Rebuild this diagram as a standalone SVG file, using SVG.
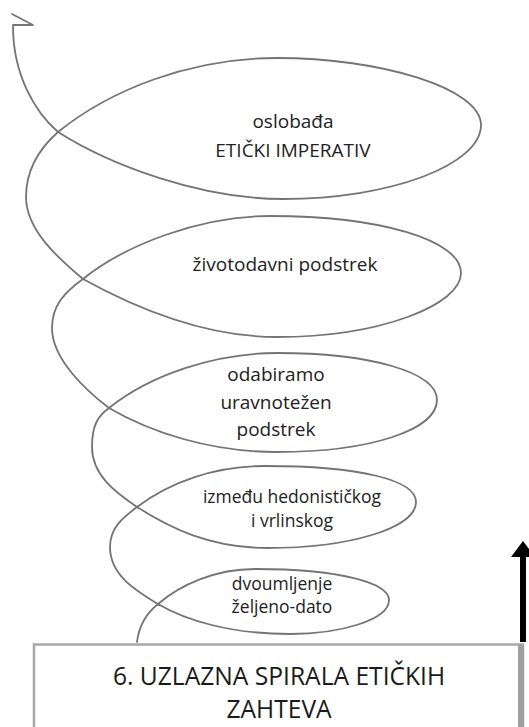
<svg xmlns="http://www.w3.org/2000/svg" width="529" height="727" viewBox="0 0 529 727">
<style>
.sp{fill:none;stroke:#747474;stroke-width:1.8;stroke-linejoin:round;stroke-linecap:round}
.t{font-family:"Open Sans","Noto Sans",sans-serif;fill:#222;text-anchor:middle}
.a{font-size:19px}
.b{font-size:17.5px}
.c{font-size:24.6px;fill:#1a1a1a}
</style>
<rect width="529" height="727" fill="#fff"/>
<g id="connectors">
<path class="sp" d="M137,642 C139,625 148,612 158,604 C180,585 215,569 255,569 C340,569 389,583 389,600 C389,620 340,634 290,634 C230,634 185,620 158,604 C135,590 110,575 110,547 C110,527 124,517 137,507 C170,482 215,466 265,466 C360,466 416,480 416,502 C416,528 350,548 267,548 C210,548 170,528 137,507 C115,492 92,475 92,447 C92,425 98,416 109,408 C150,375 215,353 277,353 C370,353 437,372 437,400 C437,430 370,452 277,452 C210,452 150,432 109,408 C88,392 52,360 52,328 C52,305 65,292 83,279 C125,245 200,216 270,216 C380,216 461,240 461,273 C461,305 380,337 277,337 C200,337 130,305 83,279 C63,262 26,232 26,197 C26,170 40,148 58,132 C110,90 190,58 277,58 C380,58 481,88 481,125 C481,165 390,199 283,199 C200,199 110,165 58,132 C35,112 13,75 13,26"/>
<path class="sp" d="M12,14 L33,25 L13,25"/>
<g id="up-arrow">
<rect x="520" y="555" width="6" height="87" fill="#000"/>
<polygon points="511,557 523,541 535,557" fill="#000"/>
</g>
</g>
<g id="loop1"><text class="t a" x="293" y="128">oslobađa</text><text class="t a" x="293" y="157">ETIČKI IMPERATIV</text></g>
<g id="loop2"><text class="t a" x="285" y="271">životodavni podstrek</text></g>
<g id="loop3"><text class="t a" x="276" y="381">odabiramo</text><text class="t a" x="276" y="409">uravnotežen</text><text class="t a" x="276" y="436">podstrek</text></g>
<g id="loop4"><text class="t b" x="292" y="503">između hedonističkog</text><text class="t b" x="292" y="527">i vrlinskog</text></g>
<g id="loop5"><text class="t b" x="282" y="590">dvoumljenje</text><text class="t b" x="282" y="613">željeno-dato</text></g>
<g id="title-box">
<rect x="34" y="644.5" width="489" height="100" fill="#fff" stroke="#a8a8a8" stroke-width="2.5"/>
<line x1="521" y1="645" x2="521" y2="727" stroke="#a0a0a0" stroke-width="6"/>
<text class="t c" x="279" y="685">6. UZLAZNA SPIRALA ETIČKIH</text>
<text class="t c" x="279" y="718">ZAHTEVA</text>
</g>
</svg>
